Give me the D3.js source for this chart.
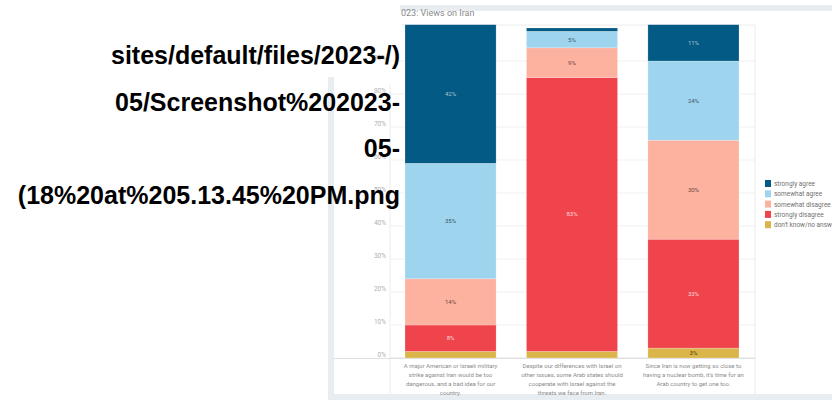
<!DOCTYPE html>
<html>
<head>
<meta charset="utf-8">
<script src="https://cdn.jsdelivr.net/npm/d3@7"></script>
<style>
  body { margin: 0; background: #fff; }
  svg { display: block; }
</style>
</head>
<body>
<svg id="chart" width="832" height="403"></svg>
<script>
var categories = ["q1", "q2", "q3"];
var categoryLines = [
    ["A major American or Israeli military", "strike against Iran would be too", "dangerous, and a bad idea for our", "country."],
    ["Despite our differences with Israel on", "other issues, some Arab states should", "cooperate with Israel against the", "threats we face from Iran."],
    ["Since Iran is now getting so close to", "having a nuclear bomb, it's time for an", "Arab country to get one too."]
];
var answers = ["strongly agree", "somewhat agree", "somewhat disagree", "strongly disagree", "don't know/no answer"];
var stronglyAgree = [42, 1, 11];
var somewhatAgree = [35, 5, 24];
var somewhatDisagree = [14, 9, 30];
var stronglyDisagree = [8, 83, 33];
var dontKnow = [2, 2, 3];
var yTicks = [0, 10, 20, 30, 40, 50, 60, 70, 80, 90];
var urlLines = ["sites/default/files/2023-/)", "05/Screenshot%202023-", "05-", "(18%20at%205.13.45%20PM.png"];

var colors = ["#035a84", "#9fd4ee", "#fdb19f", "#ef444c", "#dbb54a"];
var labelColors = ["#a9c3d4", "#3b5566", "#6b4a40", "#fbdada", "#4a3a10"];

var svg = d3.select("#chart");

// screenshot frame
svg.append("rect").attr("x", 400).attr("y", 5).attr("width", 432).attr("height", 6).style("fill", "#e8edf1");
svg.append("rect").attr("x", 328).attr("y", 77).attr("width", 6).attr("height", 323).style("fill", "#e8edf1");
svg.append("rect").attr("x", 328).attr("y", 394).attr("width", 504).attr("height", 6).style("fill", "#e8edf1");

svg.append("text")
    .attr("x", 401).attr("y", 16)
    .style("font-family", "Roboto, sans-serif")
    .style("font-size", "9px")
    .style("fill", "#8a8a8a")
    .text("023: Views on Iran");

var x = d3.scaleBand().domain(categories).range([392, 752]).paddingInner(0.25).paddingOuter(0.107);
var y = d3.scaleLinear().domain([0, 100]).range([358, 28]);

// gridlines
svg.selectAll(".grid")
    .data(yTicks)
    .enter()
    .append("line")
    .attr("x1", 390).attr("x2", 755)
    .attr("y1", function(d) { return y(d); })
    .attr("y2", function(d) { return y(d); })
    .style("stroke", function(d) { return d == 0 ? "#e2e2e2" : "#f1f1f1"; })
    .style("stroke-width", 1);

svg.append("line").attr("x1", 402).attr("x2", 755).attr("y1", 25).attr("y2", 25).style("stroke", "#ececec");
svg.append("line").attr("x1", 755).attr("x2", 755).attr("y1", 25).attr("y2", 396).style("stroke", "#ececec");
svg.append("line").attr("x1", 390).attr("x2", 390).attr("y1", 85).attr("y2", 396).style("stroke", "#ececec");
svg.append("line").attr("x1", 334).attr("x2", 755).attr("y1", 358.5).attr("y2", 358.5).style("stroke", "#e0e0e0");

// y axis tick labels
var yAxis = d3.axisLeft(y).tickValues(yTicks).tickSize(0).tickPadding(4).tickFormat(function(d) { return d + "%"; });
var yAxisG = svg.append("g").attr("transform", "translate(390,-4)").call(yAxis);
yAxisG.select(".domain").remove();
yAxisG.selectAll("text")
    .style("font-family", "Roboto, sans-serif")
    .style("font-size", "6.5px")
    .style("fill", "#b0b0b0");

// stacked bars
var rows = categories.map(function(c, i) {
    return { cat: c, v0: dontKnow[i], v1: stronglyDisagree[i], v2: somewhatDisagree[i], v3: somewhatAgree[i], v4: stronglyAgree[i] };
});
// stack order bottom to top: don't know, strongly disagree, somewhat disagree, somewhat agree, strongly agree
var stack = d3.stack().keys(["v0", "v1", "v2", "v3", "v4"]);
var series = stack(rows);
var keyToAnswer = [4, 3, 2, 1, 0];

var layers = svg.selectAll(".layer")
    .data(series)
    .enter()
    .append("g")
    .attr("class", "layer")
    .style("fill", function(d, i) { return colors[keyToAnswer[i]]; });

layers.selectAll("rect")
    .data(function(d) { return d; })
    .enter()
    .append("rect")
    .attr("x", function(d) { return x(d.data.cat); })
    .attr("width", x.bandwidth())
    .attr("y", function(d) { return y(d[1]); })
    .attr("height", function(d) { return y(d[0]) - y(d[1]); })
    .style("stroke", "rgba(255,255,255,0.35)")
    .style("stroke-width", 0.6);

layers.each(function(s, i) {
    var ans = keyToAnswer[i];
    d3.select(this).selectAll("text")
        .data(s.filter(function(d) { return d[1] - d[0] >= 3; }))
        .enter()
        .append("text")
        .attr("x", function(d) { return x(d.data.cat) + x.bandwidth() / 2; })
        .attr("y", function(d) { return (y(d[0]) + y(d[1])) / 2 + 2; })
        .style("text-anchor", "middle")
        .style("font-family", "Roboto, sans-serif")
        .style("font-size", "6px")
        .style("fill", labelColors[ans])
        .text(function(d) { return (d[1] - d[0]) + "%"; });
});

// category labels
categories.forEach(function(c, i) {
    svg.append("g")
        .selectAll("text")
        .data(categoryLines[i])
        .enter()
        .append("text")
        .attr("x", x(c) + x.bandwidth() / 2)
        .attr("y", function(d, j) { return 368 + j * 9; })
        .style("text-anchor", "middle")
        .style("font-family", "Roboto, sans-serif")
        .style("font-size", "6px")
        .style("fill", "#8c8c8c")
        .text(function(d) { return d; });
});

// legend
var legend = svg.selectAll(".legend")
    .data(answers)
    .enter()
    .append("g")
    .attr("class", "legend")
    .attr("transform", function(d, i) { return "translate(765," + (180 + i * 10.3) + ")"; });
legend.append("rect").attr("width", 6).attr("height", 7).style("fill", function(d, i) { return colors[i]; });
legend.append("text")
    .attr("x", 9).attr("y", 6)
    .style("font-family", "Roboto, sans-serif")
    .style("font-size", "6.5px")
    .style("fill", "#707070")
    .text(function(d) { return d; });

// broken image url text
svg.selectAll(".url")
    .data(urlLines)
    .enter()
    .append("text")
    .attr("x", 400)
    .attr("y", function(d, i) { return 64 + i * 46.7; })
    .style("text-anchor", "end")
    .style("font-family", "'Liberation Sans', Arial, sans-serif")
    .style("font-weight", "bold")
    .style("font-size", "25px")
    .style("fill", "#000")
    .text(function(d) { return d; });
</script>
</body>
</html>
